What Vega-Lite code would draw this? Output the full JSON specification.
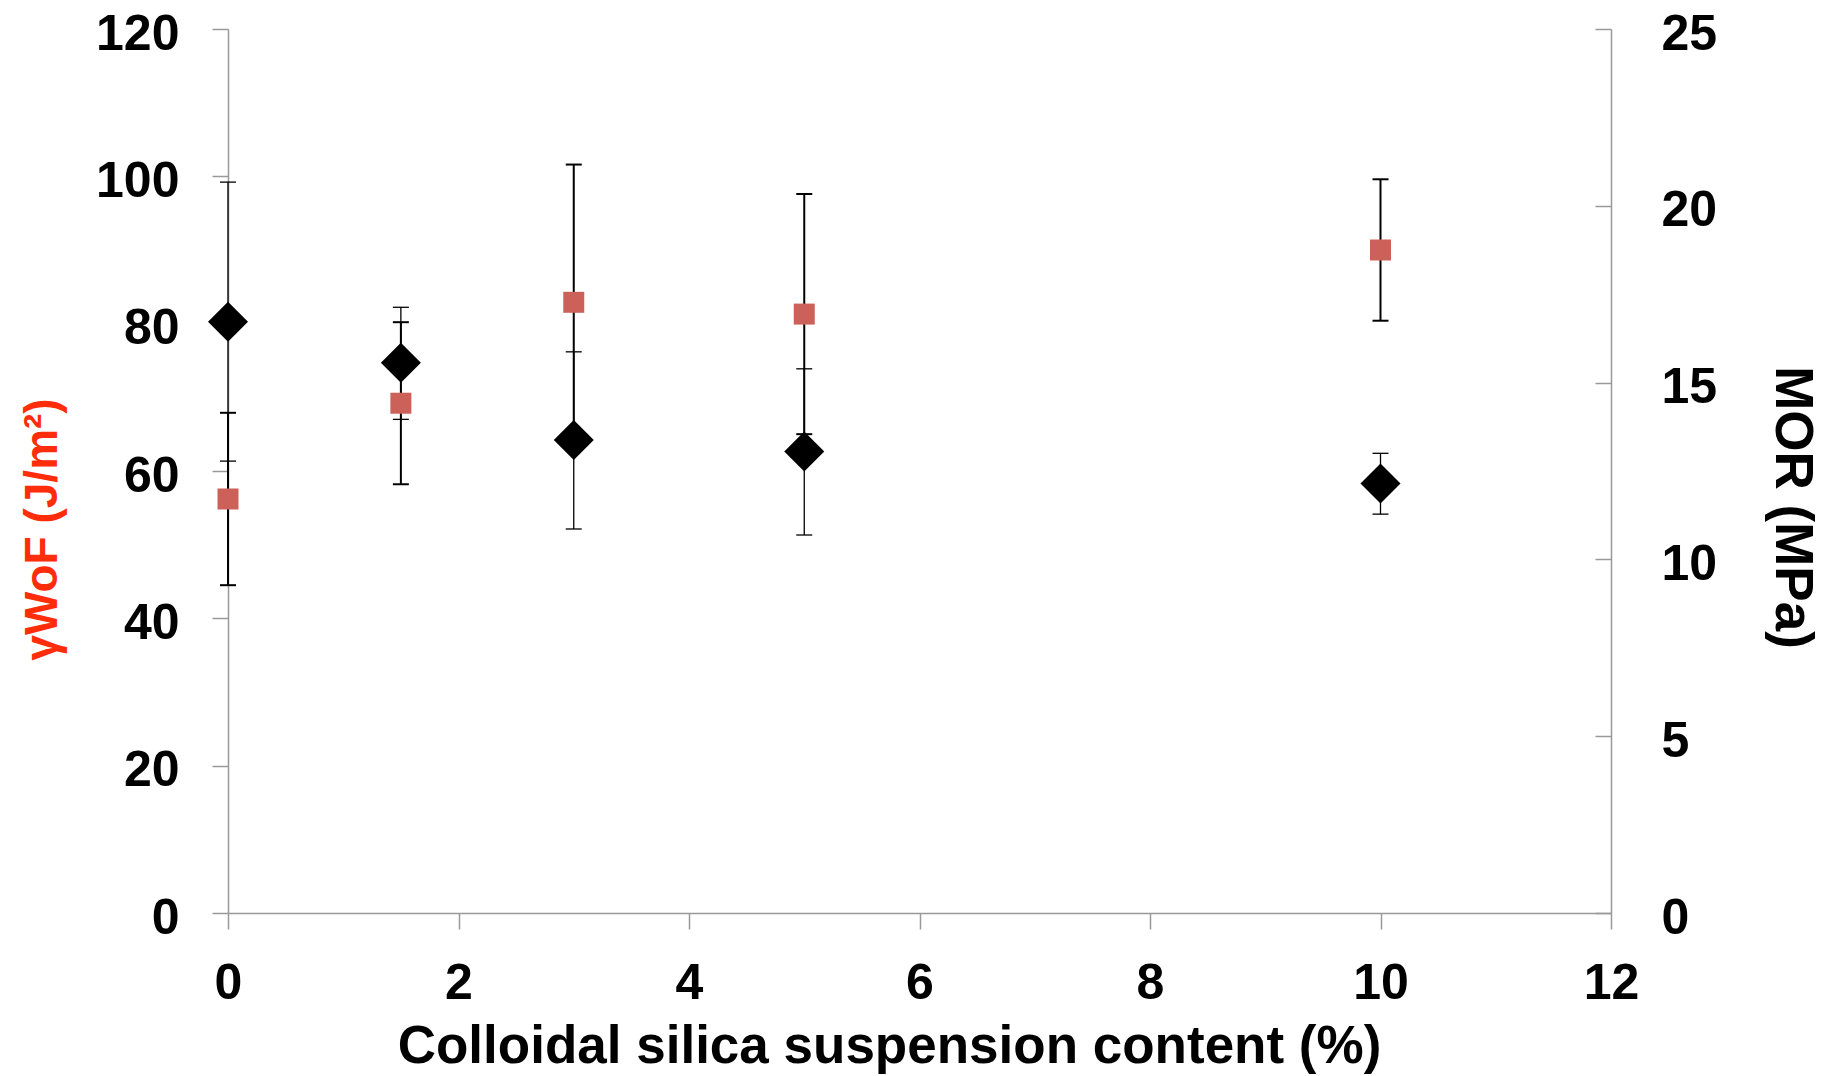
{
  "$schema": "https://vega.github.io/schema/vega-lite/v6.json",
  "width": 1383,
  "height": 884,
  "autosize": {"type": "none"},
  "padding": {"left": 228, "top": 29, "right": 212, "bottom": 163},
  "background": "white",
  "config": {
    "view": {"stroke": null},
    "font": "Liberation Sans",
    "axis": {"grid": false}
  },
  "data": {
    "values": [
      {"x": 0, "g": 56.2, "g_lo": 44.5, "g_hi": 67.9, "m": 16.72, "m_lo": 12.78, "m_hi": 20.67},
      {"x": 1.5, "g": 69.2, "g_lo": 58.2, "g_hi": 80.2, "m": 15.56, "m_lo": 13.96, "m_hi": 17.13},
      {"x": 3, "g": 82.9, "g_lo": 64.2, "g_hi": 101.6, "m": 13.38, "m_lo": 10.86, "m_hi": 15.87},
      {"x": 5, "g": 81.3, "g_lo": 65.0, "g_hi": 97.6, "m": 13.05, "m_lo": 10.69, "m_hi": 15.39},
      {"x": 10, "g": 90.0, "g_lo": 80.4, "g_hi": 99.6, "m": 12.15, "m_lo": 11.28, "m_hi": 13.0}
    ]
  },
  "encoding": {
    "x": {"field": "x", "type": "quantitative", "scale": {"domain": [0, 12], "nice": false},
      "axis": {"values": [0, 2, 4, 6, 8, 10, 12], "labelFontSize": 50, "labelFontWeight": "bold", "labelColor": "black",
        "labelPadding": 29, "tickSize": 16, "tickColor": "#999999", "tickWidth": 1.5, "domainColor": "#999999", "domainWidth": 1.5,
        "labelFlush": false, "labelOverlap": false, "labelBound": false,
        "title": "Colloidal silica suspension content (%)", "titleFontSize": 53, "titleFontWeight": "bold", "titleColor": "black",
        "titleBaseline": "alphabetic", "titleAlign": "center", "titleX": 661, "titleY": 149}}
  },
  "layer": [
    {
      "mark": {"type": "rule", "color": "black", "strokeWidth": 2},
      "encoding": {
        "y": {"field": "g_lo", "type": "quantitative", "scale": {"domain": [0, 120], "nice": false},
          "axis": {"orient": "left", "values": [0, 20, 40, 60, 80, 100, 120], "labelFontSize": 50, "labelFontWeight": "bold", "labelColor": "black",
            "labelPadding": 33, "labelOffset": 5, "labelBaseline": "middle", "tickSize": 16, "tickColor": "#999999", "tickWidth": 1.5,
            "domainColor": "#999999", "domainWidth": 1.5, "labelOverlap": false, "labelBound": false, "labelFlush": false,
            "title": "γWoF (J/m²)", "titleColor": "#ff2d0a", "titleFontSize": 46, "titleFontWeight": "bold",
            "titleAngle": -90, "titleBaseline": "alphabetic", "titleAlign": "center", "titleX": -172, "titleY": 500}},
        "y2": {"field": "g_hi"}
      }
    },
    {
      "mark": {"type": "tick", "orient": "horizontal", "color": "black", "size": 16, "thickness": 2, "opacity": 1},
      "encoding": {
        "y": {"field": "g_lo", "type": "quantitative", "scale": {"domain": [0, 120], "nice": false}, "axis": null}
      }
    },
    {
      "mark": {"type": "tick", "orient": "horizontal", "color": "black", "size": 16, "thickness": 2, "opacity": 1},
      "encoding": {
        "y": {"field": "g_hi", "type": "quantitative", "scale": {"domain": [0, 120], "nice": false}, "axis": null}
      }
    },
    {
      "mark": {"type": "rule", "color": "black", "strokeWidth": 1.3},
      "encoding": {
        "y": {"field": "m_lo", "type": "quantitative", "scale": {"domain": [0, 25], "nice": false},
          "axis": {"orient": "right", "values": [0, 5, 10, 15, 20, 25], "labelFontSize": 50, "labelFontWeight": "bold", "labelColor": "black",
            "labelPadding": 66, "labelOffset": 5, "labelBaseline": "middle", "tickSize": -16, "tickColor": "#999999", "tickWidth": 1.5,
            "domainColor": "#999999", "domainWidth": 1.5, "labelOverlap": false, "labelBound": false, "labelFlush": false,
            "title": "MOR (MPa)", "titleColor": "black", "titleFontSize": 53, "titleFontWeight": "bold",
            "titleAngle": 90, "titleBaseline": "alphabetic", "titleAlign": "center", "titleX": 164, "titleY": 478}},
        "y2": {"field": "m_hi"}
      }
    },
    {
      "mark": {"type": "tick", "orient": "horizontal", "color": "black", "size": 16, "thickness": 1.3, "opacity": 1},
      "encoding": {
        "y": {"field": "m_lo", "type": "quantitative", "scale": {"domain": [0, 25], "nice": false}, "axis": null}
      }
    },
    {
      "mark": {"type": "tick", "orient": "horizontal", "color": "black", "size": 16, "thickness": 1.3, "opacity": 1},
      "encoding": {
        "y": {"field": "m_hi", "type": "quantitative", "scale": {"domain": [0, 25], "nice": false}, "axis": null}
      }
    },
    {
      "mark": {"type": "point", "shape": "square", "filled": true, "size": 441, "color": "#cc615a", "opacity": 1},
      "encoding": {
        "y": {"field": "g", "type": "quantitative", "scale": {"domain": [0, 120], "nice": false}, "axis": null}
      }
    },
    {
      "mark": {"type": "point", "shape": "diamond", "filled": true, "size": 1600, "color": "black", "opacity": 1},
      "encoding": {
        "y": {"field": "m", "type": "quantitative", "scale": {"domain": [0, 25], "nice": false}, "axis": null}
      }
    }
  ],
  "resolve": {"scale": {"y": "independent"}}
}
